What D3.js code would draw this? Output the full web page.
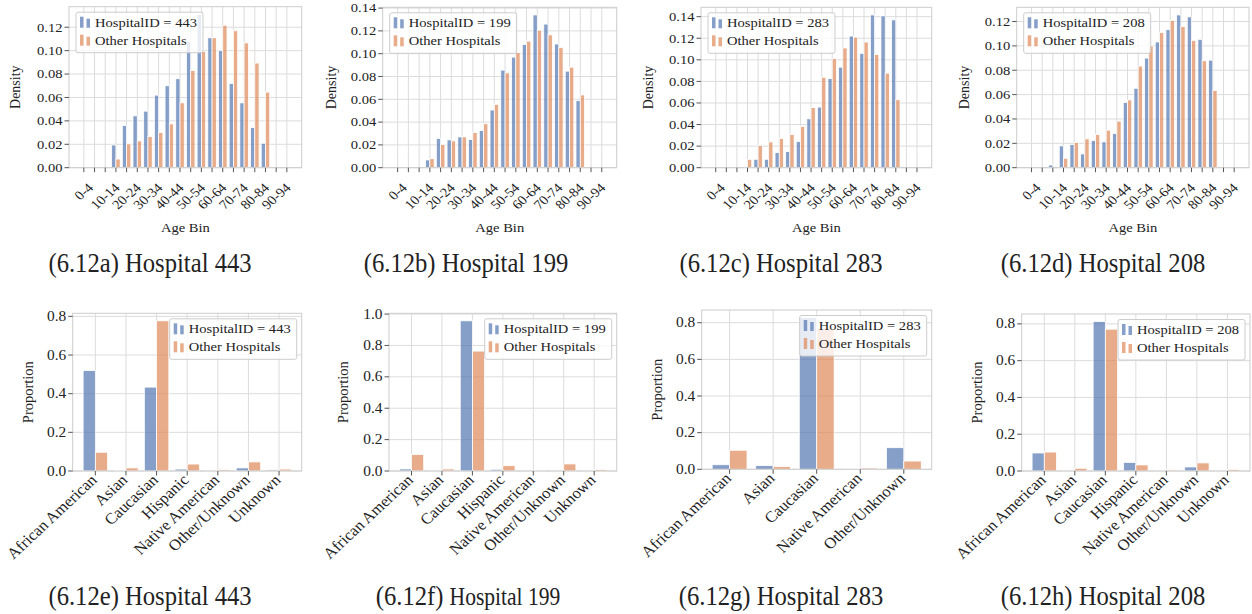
<!DOCTYPE html>
<html>
<head>
<meta charset="utf-8">
<script src="https://cdn.jsdelivr.net/npm/d3@7"></script>
<style>
  body { margin: 0; background: #fff; }
  svg { display: block; }
  text { font-family: "Liberation Serif", "DejaVu Serif", serif; fill: #222; }
</style>
</head>
<body>
<svg id="fig" width="1252" height="614"></svg>
<script>
// ---- categories ----
const ageBins = ["0-4","5-9","10-14","15-19","20-24","25-29","30-34","35-39","40-44","45-49",
                 "50-54","55-59","60-64","65-69","70-74","75-79","80-84","85-89","90-94","95-99"];
const ethnicity7 = ["African American","Asian","Caucasian","Hispanic","Native American","Other/Unknown","Unknown"];
const ethnicity5 = ["African American","Asian","Caucasian","Native American","Other/Unknown"];

// ---- age density: selected hospital vs. all other hospitals ----
const age443      = [0,0,0,0.0194,0.0360,0.0443,0.0483,0.0620,0.0700,0.0760,0.1080,0.1310,0.1110,0.1000,0.0720,0.0554,0.0343,0.0209,0,0];
const ageOther443 = [0,0,0,0.0074,0.0203,0.0229,0.0266,0.0300,0.0374,0.0554,0.0830,0.0994,0.1110,0.1217,0.1170,0.1066,0.0894,0.0646,0,0];
const age199      = [0,0,0,0.0068,0.0256,0.0244,0.0270,0.0247,0.0326,0.0506,0.0856,0.0970,0.1080,0.1340,0.1260,0.1085,0.0847,0.0588,0,0];
const ageOther199 = [0,0,0,0.0079,0.0203,0.0235,0.0270,0.0309,0.0385,0.0556,0.0832,0.1009,0.1110,0.1206,0.1165,0.1053,0.0882,0.0638,0,0];
const age283      = [0,0,0,0.0006,0.0078,0.0078,0.0140,0.0149,0.0242,0.0453,0.0562,0.0826,0.0932,0.1220,0.1060,0.1416,0.1407,0.1370,0,0];
const ageOther283 = [0,0,0,0.0078,0.0205,0.0239,0.0270,0.0307,0.0382,0.0559,0.0839,0.1010,0.1110,0.1210,0.1165,0.1050,0.0876,0.0630,0,0];
const age208      = [0,0,0.0022,0.0179,0.0190,0.0113,0.0223,0.0212,0.0280,0.0536,0.0652,0.0900,0.1032,0.1133,0.1254,0.1238,0.1054,0.0883,0,0];
const ageOther208 = [0,0,0,0.0077,0.0206,0.0237,0.0272,0.0308,0.0382,0.0556,0.0834,0.0999,0.1110,0.1210,0.1158,0.1045,0.0878,0.0633,0,0];

// ---- ethnicity proportions ----
const eth443      = [0.520,0.003,0.434,0.010,0.002,0.016,0.006];
const ethOther443 = [0.097,0.016,0.777,0.036,0.007,0.047,0.010];
const eth199      = [0.013,0.002,0.957,0.011,0.001,0.006,0.001];
const ethOther199 = [0.105,0.013,0.764,0.034,0.006,0.045,0.009];
const eth283      = [0.025,0.020,0.828,0.001,0.118];
const ethOther283 = [0.104,0.0145,0.770,0.007,0.045];
const eth208      = [0.098,0.002,0.813,0.047,0.001,0.022,0.001];
const ethOther208 = [0.103,0.015,0.771,0.033,0.006,0.044,0.009];

const hospitalIds = [443, 199, 283, 208];
const otherLabel = "Other Hospitals";
const captionTags = ["(6.12a)","(6.12b)","(6.12c)","(6.12d)","(6.12e)","(6.12f)","(6.12g)","(6.12h)"];

// ---- layout of the eight panels ----
const panels = [
  {cats: ageBins,    sel: age443, oth: ageOther443, id: 0, kind: "age", box: [69, 6.7, 301.7, 167.7],    ylabX: 15,    capX: 150},
  {cats: ageBins,    sel: age199, oth: ageOther199, id: 1, kind: "age", box: [382.7, 7.3, 616.7, 167.7], ylabX: 331.7, capX: 466},
  {cats: ageBins,    sel: age283, oth: ageOther283, id: 2, kind: "age", box: [701, 7.3, 931.7, 167.7],   ylabX: 648.3, capX: 781},
  {cats: ageBins,    sel: age208, oth: ageOther208, id: 3, kind: "age", box: [1016.7, 7.3, 1249, 167.7], ylabX: 964.3, capX: 1103},
  {cats: ethnicity7, sel: eth443, oth: ethOther443, id: 0, kind: "eth", box: [72.7, 313.3, 301.7, 471],   ylabX: 28.3,  capX: 150},
  {cats: ethnicity7, sel: eth199, oth: ethOther199, id: 1, kind: "eth", box: [389, 313.3, 616.7, 471],    ylabX: 343.3, capX: 468},
  {cats: ethnicity5, sel: eth283, oth: ethOther283, id: 2, kind: "eth", box: [701.7, 310, 931.7, 469.3],  ylabX: 656.7, capX: 781},
  {cats: ethnicity7, sel: eth208, oth: ethOther208, id: 3, kind: "eth", box: [1021.7, 314, 1250, 471],    ylabX: 976.7, capX: 1103}
];

const SX = 1.12;               // horizontal stretch of in-panel text
const FS = 13;                 // tick / legend font size
const BLUE = "#4C72B0", ORANGE = "#DD8452", BAR_ALPHA = 0.68;
const GRID = "#dcdcdc", FRAME = "#cccccc", TICK = "#555";

const svg = d3.select("#fig");

function stretchedText(g, x, y, str, opts = {}) {
  const sx = opts.sx || SX;
  const t = g.append("text")
    .attr("font-size", opts.size || FS)
    .attr("text-anchor", opts.anchor || "start")
    .attr("transform", `translate(${x},${y}) scale(${sx},1)` + (opts.rot ? ` rotate(${opts.rot})` : ""))
    .text(str);
  if (opts.baseline) t.attr("dominant-baseline", opts.baseline);
  if (opts.dy) t.attr("dy", opts.dy);
  return t;
}

panels.forEach((p, k) => {
  const [x0, y0, x1, y1] = p.box;
  const n = p.cats.length;
  const isAge = p.kind === "age";
  const pad = 0.05 * (n - 1 + 0.8);
  const x = d3.scaleLinear().domain([-0.4 - pad, n - 1 + 0.4 + pad]).range([x0, x1]);
  const ymax = d3.max(p.sel.concat(p.oth)) * 1.05;
  const y = d3.scaleLinear().domain([0, ymax]).range([y1, y0]);
  const step = isAge ? 0.02 : 0.2;
  const yTicks = d3.range(0, ymax + 1e-9, step);
  const fmt = d3.format(isAge ? ".2f" : ".1f");
  const g = svg.append("g");

  // grid
  g.append("g").selectAll("line").data(d3.range(n)).join("line")
    .attr("x1", i => x(i)).attr("x2", i => x(i)).attr("y1", y0).attr("y2", y1)
    .attr("stroke", GRID).attr("stroke-width", 1);
  g.append("g").selectAll("line").data(yTicks).join("line")
    .attr("x1", x0).attr("x2", x1).attr("y1", d => y(d)).attr("y2", d => y(d))
    .attr("stroke", GRID).attr("stroke-width", 1);

  // bars: selected hospital left of the tick, other hospitals right of it
  const series = [{vals: p.sel, col: BLUE, off: -0.4}, {vals: p.oth, col: ORANGE, off: 0}];
  series.forEach(s => {
    g.append("g").selectAll("rect").data(s.vals.map((v, i) => ({v, i})).filter(d => d.v > 0)).join("rect")
      .attr("x", d => x(d.i + s.off))
      .attr("width", x(0.4) - x(0))
      .attr("y", d => y(d.v))
      .attr("height", d => y(0) - y(d.v))
      .attr("fill", s.col).attr("fill-opacity", BAR_ALPHA)
      .attr("stroke", "#fff").attr("stroke-width", 0.8);
  });

  // frame
  g.append("rect").attr("x", x0).attr("y", y0).attr("width", x1 - x0).attr("height", y1 - y0)
    .attr("fill", "none").attr("stroke", FRAME).attr("stroke-width", 1);

  // y axis ticks + labels
  yTicks.forEach(v => {
    g.append("line").attr("x1", x0 - 4.5).attr("x2", x0).attr("y1", y(v)).attr("y2", y(v))
      .attr("stroke", TICK).attr("stroke-width", 1);
    stretchedText(g, x0 - 6.5, y(v), fmt(v), {anchor: "end", dy: "0.33em", size: isAge ? 13 : 14, sx: isAge ? 1.12 : 1.1});
  });

  // x axis ticks + labels
  d3.range(n).forEach(i => {
    g.append("line").attr("x1", x(i)).attr("x2", x(i)).attr("y1", y1).attr("y2", y1 + 4.5)
      .attr("stroke", TICK).attr("stroke-width", 1);
  });
  if (isAge) {
    d3.range(0, n, 2).forEach(i => {
      const t = stretchedText(g, 0, 0, p.cats[i], {anchor: "middle", baseline: "central"});
      const w = t.node().getComputedTextLength();
      const half = 0.7071 * (w + FS) / 2;
      t.attr("transform", `translate(${x(i)},${y1 + 13.3 + half}) scale(${SX},1) rotate(-45)`);
    });
    stretchedText(g, (x0 + x1) / 2, 232, "Age Bin", {anchor: "middle"});
  } else {
    d3.range(n).forEach(i => {
      stretchedText(g, x(i) + 2.5, y1 + 10, p.cats[i], {anchor: "end", rot: -45, size: 15.5, sx: 1.07});
    });
  }

  // y label
  g.append("text").attr("font-size", isAge ? 14 : 14.5).attr("text-anchor", "middle")
    .attr("transform", `translate(${p.ylabX},${(y0 + y1) / 2}) rotate(-90)`)
    .attr("dominant-baseline", "central")
    .text(isAge ? "Density" : "Proportion");

  // legend
  const lg = g.append("g");
  const labels = [`HospitalID = ${hospitalIds[p.id]}`, otherLabel];
  const tmp = stretchedText(lg, 0, 0, labels[0]);
  const tw = tmp.node().getComputedTextLength() * SX;
  tmp.remove();
  const lw = 19 + tw + 6, lh = 40.5;
  const bx = isAge ? x0 + 7 : x1 - 5 - lw;
  const by = y0 + 5.5;
  lg.append("rect").attr("x", bx).attr("y", by).attr("width", lw).attr("height", lh).attr("rx", 2)
    .attr("fill", "#fff").attr("fill-opacity", 0.8).attr("stroke", "#cccccc").attr("stroke-width", 1);
  [BLUE, ORANGE].forEach((c, r) => {
    const cy = by + 10 + r * 18;
    lg.append("rect").attr("x", bx + 4).attr("y", cy - 5.5).attr("width", 3.5).attr("height", 11)
      .attr("fill", c).attr("fill-opacity", BAR_ALPHA);
    lg.append("rect").attr("x", bx + 10.5).attr("y", cy - 3.5).attr("width", 3.5).attr("height", 9)
      .attr("fill", c).attr("fill-opacity", BAR_ALPHA);
    stretchedText(lg, bx + 19, cy, labels[r], {dy: "0.35em"});
  });

  // caption
  const capY = k < 4 ? 272 : 605;
  const cap = svg.append("text").attr("font-size", 28).attr("text-anchor", "middle")
    .attr("transform", `translate(${p.capX},${capY}) scale(0.88,1)`)
    .attr("fill", "#111");
  cap.append("tspan").text(captionTags[k] + " ");
  cap.append("tspan").attr("font-size", k === 5 ? 24.5 : 28).text(`Hospital ${hospitalIds[p.id]}`);
});
</script>
</body>
</html>
